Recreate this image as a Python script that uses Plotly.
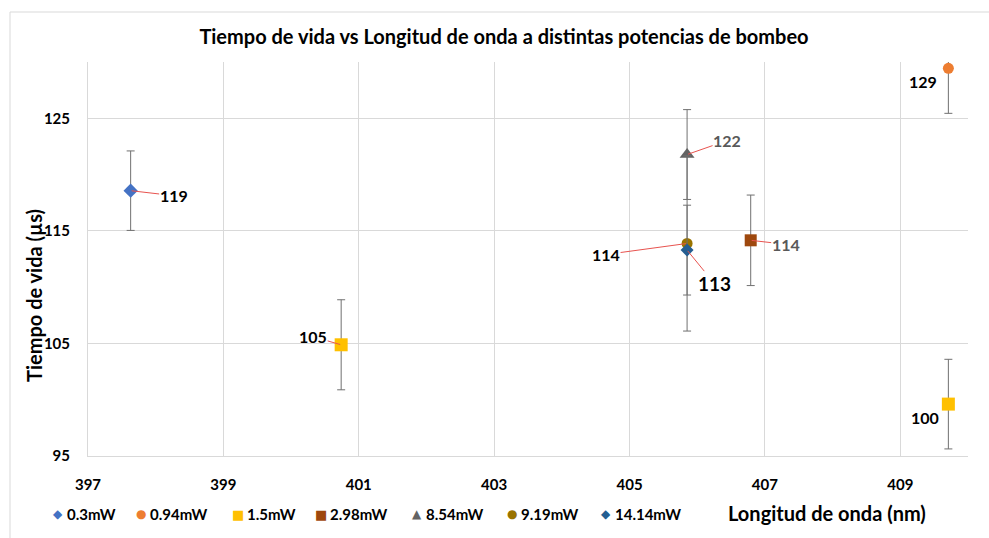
import plotly.graph_objects as go

# Measured lifetime vs emission wavelength, one series per pump power
series_names = ["0.3mW", "0.94mW", "1.5mW", "2.98mW", "8.54mW", "9.19mW", "14.14mW"]
wavelength_nm = [[397.63], [409.71], [400.74, 409.71], [406.79], [405.85], [405.85], [405.85]]
lifetime_us = [[118.57], [129.44], [104.88, 99.61], [114.16], [121.78], [113.88], [113.29]]
lifetime_err = [[3.53], [4.0], [4.0, 3.98], [4.02], [3.99], [7.78], [3.99]]

x_ticks = [397, 399, 401, 403, 405, 407, 409]
y_ticks = [95, 105, 115, 125]

# Marker styling per series
colors = ["#4472C4", "#ED7D31", "#FFC000", "#9E480E", "#636363", "#997300", "#255E91"]
symbols = ["diamond", "circle", "square", "square", "triangle-up", "circle", "diamond"]
sizes = [11, 11, 13, 12, 13, 11, 10]

# Value-label placement (pixel offset from the point, colour, size, leader line)
label_style = {
    (0, 0): (43, 5, "#000000", 16, True),
    (1, 0): (-25, 13, "#000000", 16, False),
    (2, 0): (-28, -8, "#000000", 16, True),
    (2, 1): (-23, 13, "#000000", 16, False),
    (3, 0): (35, 4, "#595959", 16, True),
    (4, 0): (40, -14, "#595959", 16, True),
    (5, 0): (-81, 11, "#000000", 16, True),
    (6, 0): (27, 33, "#000000", 19, True),
}

# Legend entries laid out along the bottom (symbol glyph, pixel x of symbol centre)
legend_glyphs = ["\u25C6", "\u25CF", "\u25A0", "\u25A0", "\u25B2", "\u25CF", "\u25C6"]
legend_px = [58, 141, 238, 321, 417, 512, 606]

FONT = "Lato"
W, H = 989, 538
L, R, T, B = 88, 21, 62, 82
PW, PH = W - L - R, H - T - B


def px_to_paper(px, py):
    return (px - L) / PW, (H - B - py) / PH


fig = go.Figure()

for i, name in enumerate(series_names):
    fig.add_trace(go.Scatter(
        x=wavelength_nm[i],
        y=lifetime_us[i],
        mode="markers",
        name=name,
        marker=dict(symbol=symbols[i], size=sizes[i], color=colors[i],
                    line=dict(width=0)),
        error_y=dict(type="data", array=lifetime_err[i], color="#707070",
                     thickness=1, width=4),
        showlegend=False,
    ))

annotations = []

# Value labels derived from the plotted values
for i in range(len(series_names)):
    for j, (xv, yv) in enumerate(zip(wavelength_nm[i], lifetime_us[i])):
        dx, dy, col, fs, leader = label_style[(i, j)]
        ann = dict(x=xv, y=yv, xref="x", yref="y", text=str(round(yv)),
                   font=dict(family=FONT, size=fs, color=col, weight="bold"),
                   borderpad=0)
        if leader:
            ann.update(showarrow=True, ax=dx, ay=dy, arrowhead=0, arrowwidth=1,
                       arrowcolor="#E8534F", standoff=1)
        else:
            ann.update(showarrow=False, xshift=dx, yshift=-dy)
        annotations.append(ann)

# Legend
lx_y = px_to_paper(0, 514)[1]
for name, glyph, col, cx in zip(series_names, legend_glyphs, colors, legend_px):
    gsize = 13 if glyph in ("\u25A0",) else 12
    annotations.append(dict(
        x=px_to_paper(cx, 0)[0], y=lx_y, xref="paper", yref="paper",
        text=glyph, showarrow=False, xanchor="center", yanchor="middle",
        font=dict(family="DejaVu Sans", size=gsize, color=col)))
    annotations.append(dict(
        x=px_to_paper(cx + 7, 0)[0], y=lx_y, xref="paper", yref="paper",
        text=name, showarrow=False, xanchor="left", yanchor="middle",
        font=dict(family=FONT, size=15, color="#000000", weight="bold")))

# Axis titles
ytx, yty = px_to_paper(34, 296)
annotations.append(dict(
    x=ytx, y=yty, xref="paper", yref="paper", text="Tiempo de vida (µs)",
    textangle=-90, showarrow=False, xanchor="center", yanchor="middle",
    font=dict(family=FONT, size=20, color="#000000", weight="bold")))
xtx, xty = px_to_paper(827, 513)
annotations.append(dict(
    x=xtx, y=xty, xref="paper", yref="paper", text="Longitud de onda (nm)",
    showarrow=False, xanchor="center", yanchor="middle",
    font=dict(family=FONT, size=20, color="#000000", weight="bold")))

# Chart-area frame (top and left edges)
bx, by = px_to_paper(10, 12)
_, bbot = px_to_paper(0, H)
rx, _ = px_to_paper(W, 0)
shapes = [
    dict(type="line", xref="paper", yref="paper", x0=bx, y0=by, x1=rx, y1=by,
         line=dict(color="#D9D9D9", width=1)),
    dict(type="line", xref="paper", yref="paper", x0=bx, y0=by, x1=bx, y1=bbot,
         line=dict(color="#D9D9D9", width=1)),
]

title_x, _ = px_to_paper(504, 0)
fig.update_layout(
    width=W, height=H,
    margin=dict(l=L, r=R, t=T, b=B, pad=0),
    paper_bgcolor="white", plot_bgcolor="white",
    title=dict(text="Tiempo de vida vs Longitud de onda a distintas potencias de bombeo",
               x=title_x, xref="paper", xanchor="center",
               y=1 - 37 / H, yref="container", yanchor="middle",
               font=dict(family=FONT, size=20, color="#000000", weight="bold")),
    xaxis=dict(range=[397, 410], tickvals=x_ticks, showgrid=True,
               gridcolor="#D9D9D9", gridwidth=1, zeroline=False,
               showline=True, linecolor="#D9D9D9", linewidth=1,
               ticks="", ticklabelstandoff=15,
               tickfont=dict(family=FONT, size=15, color="#000000", weight="bold")),
    yaxis=dict(range=[95, 130], tickvals=y_ticks, showgrid=True,
               gridcolor="#D9D9D9", gridwidth=1, zeroline=False,
               showline=True, linecolor="#D9D9D9", linewidth=1,
               ticks="", ticklabelstandoff=14,
               tickfont=dict(family=FONT, size=15, color="#000000", weight="bold")),
    annotations=annotations,
    shapes=shapes,
    showlegend=False,
)

fig.write_html("out.html")
